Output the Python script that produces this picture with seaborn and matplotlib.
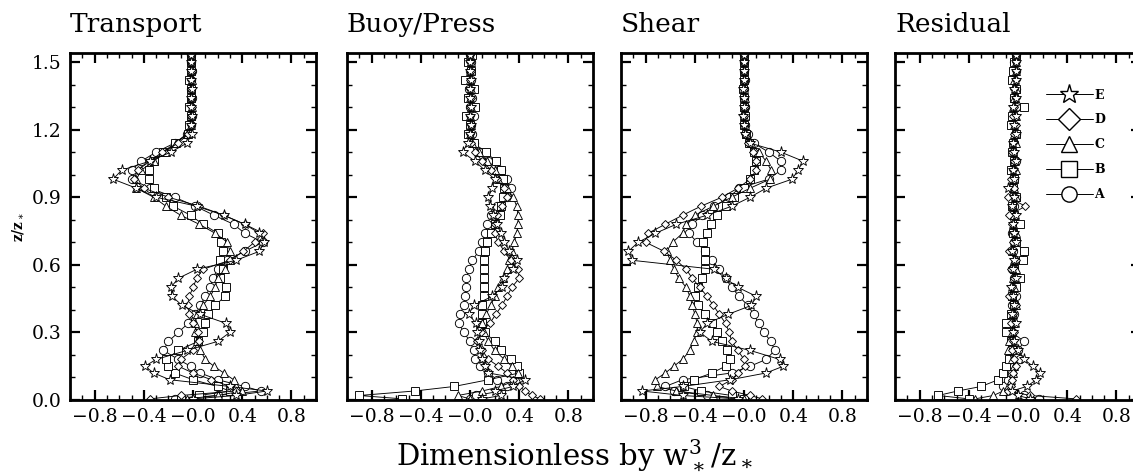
import numpy as np
import pandas as pd
import matplotlib
matplotlib.use("Agg")
import matplotlib.pyplot as plt
from matplotlib.lines import Line2D
from matplotlib.ticker import FixedLocator, FixedFormatter, MultipleLocator
import seaborn as sns

# ---------------- data ----------------
runs = ["A", "B", "C", "D", "E"]
panel_titles = ["Transport", "Buoy/Press", "Shear", "Residual"]
x_tick_values = [-0.8, -0.4, 0.0, 0.4, 0.8]
x_tick_labels = ["\u22120.8", "\u22120.4", "\u22120.0", "0.4", "0.8"]
y_tick_values = [0.0, 0.3, 0.6, 0.9, 1.2, 1.5]
y_tick_labels = ["0.0", "0.3", "0.6", "0.9", "1.2", "1.5"]

z_levels = [0.005, 0.02, 0.04, 0.06, 0.09, 0.12, 0.15, 0.18, 0.22, 0.26,
            0.30, 0.34, 0.38, 0.42, 0.46, 0.50, 0.54, 0.58, 0.62, 0.66,
            0.70, 0.74, 0.78, 0.82, 0.86, 0.90, 0.94, 0.98, 1.02, 1.06,
            1.10, 1.14, 1.18, 1.22, 1.26, 1.30, 1.34, 1.38, 1.42, 1.46,
            1.50, 1.53]

# Transport
transport_A = [-0.15, 0.20, 0.55, 0.42, 0.20, 0.06, -0.02, -0.12, -0.24, -0.20,
               -0.12, -0.04, 0.02, 0.06, 0.10, 0.14, 0.16, 0.20, 0.28, 0.42,
               0.57, 0.42, 0.33, 0.17, 0.02, -0.15, -0.35, -0.50, -0.50, -0.42,
               -0.30, -0.15, -0.05, -0.02, -0.01, -0.02, -0.01, -0.02, -0.02, -0.01,
               -0.02, -0.02]
transport_B = [-0.10, 0.05, 0.30, 0.20, 0.00, -0.15, -0.20, -0.22, -0.12, 0.04,
               0.08, 0.10, 0.12, 0.18, 0.26, 0.27, 0.22, 0.24, 0.22, 0.24,
               0.23, 0.20, 0.08, -0.02, -0.16, -0.22, -0.32, -0.36, -0.36, -0.32,
               -0.24, -0.15, -0.04, -0.03, -0.02, -0.03, -0.02, -0.02, -0.03, -0.02,
               -0.02, -0.02]
transport_C = [-0.05, 0.20, 0.40, 0.35, 0.33, 0.25, 0.17, 0.10, 0.06, 0.03,
               0.02, 0.02, 0.03, 0.08, 0.14, 0.18, 0.20, 0.26, 0.30, 0.30,
               0.28, 0.18, 0.05, -0.10, -0.22, -0.32, -0.46, -0.46, -0.42, -0.32,
               -0.22, -0.14, -0.05, -0.02, -0.02, -0.01, -0.02, -0.02, -0.01, -0.02,
               -0.02, -0.02]
transport_D = [-0.35, -0.10, 0.35, 0.30, 0.15, 0.00, -0.12, -0.10, 0.00, 0.05,
               0.04, 0.00, -0.03, -0.04, -0.03, 0.00, 0.03, 0.08, 0.30, 0.41,
               0.50, 0.57, 0.42, 0.25, 0.05, -0.20, -0.40, -0.48, -0.45, -0.35,
               -0.25, -0.12, -0.04, -0.02, -0.02, -0.01, -0.02, -0.02, -0.02, -0.01,
               -0.02, -0.02]
transport_E = [0.00, 0.35, 0.60, 0.30, -0.19, -0.32, -0.39, -0.30, -0.05, 0.20,
               0.30, 0.27, 0.06, -0.09, -0.17, -0.18, -0.12, 0.03, 0.35, 0.54,
               0.58, 0.54, 0.42, 0.25, 0.03, -0.30, -0.46, -0.65, -0.58, -0.35,
               -0.18, -0.05, -0.01, -0.02, -0.01, -0.02, -0.02, -0.01, -0.02, -0.02,
               -0.02, -0.02]

# Buoy/Press
buoy_A = [0.00, 0.05, 0.25, 0.30, 0.22, 0.15, 0.08, 0.04, 0.03, 0.00,
          -0.05, -0.09, -0.08, -0.05, -0.04, -0.03, -0.03, -0.01, 0.02, 0.07,
          0.10, 0.12, 0.14, 0.17, 0.22, 0.30, 0.33, 0.30, 0.25, 0.15,
          0.08, 0.03, 0.02, 0.01, 0.03, 0.00, 0.02, -0.01, 0.01, 0.00,
          0.01, 0.00]
buoy_B = [-0.55, -0.90, -0.45, -0.13, 0.15, 0.40, 0.38, 0.33, 0.25, 0.20,
          0.12, 0.10, 0.10, 0.10, 0.11, 0.11, 0.11, 0.11, 0.11, 0.12,
          0.14, 0.17, 0.20, 0.24, 0.25, 0.27, 0.28, 0.27, 0.25, 0.21,
          0.13, 0.03, -0.02, 0.00, -0.03, 0.04, -0.02, 0.03, -0.04, 0.01,
          -0.02, 0.02]
buoy_C = [0.00, -0.10, 0.10, 0.25, 0.38, 0.39, 0.34, 0.28, 0.20, 0.15,
          0.11, 0.10, 0.13, 0.17, 0.20, 0.23, 0.27, 0.30, 0.32, 0.34,
          0.36, 0.38, 0.39, 0.39, 0.38, 0.35, 0.30, 0.23, 0.20, 0.14,
          0.07, 0.02, 0.00, 0.01, 0.00, 0.01, 0.00, 0.01, 0.00, 0.00,
          0.01, 0.00]
buoy_D = [0.57, 0.50, 0.45, 0.40, 0.35, 0.30, 0.23, 0.15, 0.10, 0.06,
          0.09, 0.16, 0.21, 0.26, 0.30, 0.34, 0.40, 0.39, 0.33, 0.28,
          0.23, 0.20, 0.20, 0.22, 0.26, 0.30, 0.28, 0.22, 0.17, 0.10,
          0.04, 0.01, 0.00, 0.01, 0.00, 0.00, 0.01, 0.00, 0.00, 0.01,
          0.00, 0.00]
buoy_E = [0.10, 0.25, 0.20, 0.35, 0.45, 0.15, 0.12, 0.10, 0.08, 0.07,
          0.06, 0.05, -0.01, 0.03, 0.18, 0.26, 0.28, 0.35, 0.38, 0.32,
          0.28, 0.25, 0.22, 0.19, 0.16, 0.15, 0.18, 0.20, 0.12, 0.04,
          -0.06, -0.02, 0.00, 0.01, 0.00, 0.01, 0.00, 0.00, 0.01, 0.00,
          0.00, 0.00]

# Shear
shear_A = [0.00, -0.30, -0.57, -0.64, -0.50, -0.10, 0.05, 0.18, 0.25, 0.22,
           0.16, 0.12, 0.08, 0.03, -0.04, -0.10, -0.15, -0.20, -0.26, -0.32,
           -0.38, -0.45, -0.42, -0.34, -0.24, -0.12, -0.04, 0.20, 0.30, 0.30,
           0.20, 0.08, 0.03, 0.01, 0.00, 0.01, 0.00, 0.00, 0.01, 0.00,
           0.00, 0.00]
shear_B = [0.00, -0.10, -0.35, -0.49, -0.41, -0.26, -0.15, -0.11, -0.14, -0.18,
           -0.22, -0.26, -0.32, -0.37, -0.40, -0.37, -0.34, -0.32, -0.32, -0.32,
           -0.33, -0.30, -0.27, -0.22, -0.15, -0.08, 0.00, 0.05, 0.08, 0.10,
           0.08, 0.04, 0.02, 0.00, 0.01, 0.00, 0.00, -0.01, 0.00, 0.00,
           0.00, 0.00]
shear_C = [0.00, -0.25, -0.55, -0.71, -0.72, -0.64, -0.57, -0.50, -0.44, -0.41,
           -0.38, -0.38, -0.40, -0.42, -0.44, -0.47, -0.53, -0.57, -0.60, -0.63,
           -0.58, -0.50, -0.47, -0.40, -0.25, -0.10, 0.05, 0.21, 0.22, 0.18,
           0.12, 0.06, 0.02, 0.01, 0.00, 0.00, 0.01, 0.00, 0.00, 0.00,
           0.00, 0.00]
shear_D = [0.15, 0.05, -0.10, -0.20, -0.10, -0.05, 0.01, 0.00, -0.05, -0.10,
           -0.12, -0.15, -0.20, -0.25, -0.30, -0.36, -0.42, -0.47, -0.55, -0.65,
           -0.80, -0.78, -0.64, -0.50, -0.35, -0.18, -0.05, 0.05, 0.10, 0.10,
           0.07, 0.03, 0.01, 0.00, 0.00, 0.01, 0.00, 0.00, 0.00, 0.00,
           0.00, 0.00]
shear_E = [-0.05, -0.50, -0.83, -0.50, -0.11, 0.18, 0.32, 0.29, 0.05, -0.26,
           -0.36, -0.30, -0.13, 0.06, 0.10, -0.05, -0.15, -0.24, -0.91, -0.94,
           -0.86, -0.72, -0.55, -0.30, -0.10, 0.05, 0.18, 0.39, 0.44, 0.48,
           0.30, 0.05, 0.01, 0.00, -0.01, 0.00, 0.00, -0.01, 0.00, 0.00,
           0.00, 0.00]

# Residual
resid_A = [0.17, 0.05, -0.10, -0.12, -0.08, -0.05, -0.03, 0.02, 0.00, 0.05,
           -0.05, -0.04, -0.03, -0.05, -0.02, -0.04, -0.03, -0.05, -0.02, -0.04,
           -0.03, -0.05, -0.02, -0.04, -0.03, -0.02, -0.04, -0.03, -0.05, -0.02,
           -0.04, -0.03, -0.02, -0.04, -0.03, -0.02, -0.03, -0.02, -0.03, -0.02,
           -0.03, -0.02]
resid_B = [-0.40, -0.65, -0.49, -0.30, -0.16, -0.12, -0.10, -0.07, -0.05, -0.06,
           -0.10, -0.10, -0.06, -0.03, -0.05, -0.02, 0.02, -0.03, 0.04, 0.05,
           -0.02, -0.04, 0.02, -0.03, -0.05, -0.02, -0.04, -0.03, -0.06, -0.03,
           -0.05, -0.04, -0.02, -0.06, -0.05, 0.05, -0.03, -0.02, -0.05, -0.04,
           -0.03, -0.02]
resid_C = [-0.35, -0.20, -0.12, -0.08, -0.06, -0.04, -0.03, -0.05, -0.08, -0.07,
           -0.05, -0.03, -0.04, -0.02, -0.05, -0.03, -0.04, -0.02, -0.03, -0.05,
           -0.03, -0.02, -0.04, -0.03, -0.05, -0.02, -0.03, -0.04, -0.02, -0.03,
           -0.04, -0.02, -0.03, -0.03, -0.02, -0.04, -0.03, -0.02, -0.03, -0.02,
           -0.02, -0.02]
resid_D = [0.47, 0.10, -0.08, -0.06, -0.05, -0.04, -0.02, -0.03, -0.05, -0.04,
           -0.03, -0.06, -0.04, -0.02, -0.07, -0.05, -0.03, -0.06, -0.02, -0.07,
           -0.04, -0.03, -0.05, -0.07, 0.06, -0.08, -0.03, -0.06, -0.04, -0.03,
           -0.05, -0.04, -0.03, -0.02, -0.04, -0.03, -0.02, -0.03, -0.02, -0.02,
           -0.02, -0.02]
resid_E = [0.10, 0.00, -0.05, 0.07, 0.15, 0.18, 0.12, 0.05, 0.00, -0.03,
           -0.04, -0.02, -0.05, -0.03, -0.04, -0.06, -0.02, -0.04, -0.03, -0.05,
           -0.02, -0.03, -0.04, -0.02, -0.05, -0.03, -0.08, -0.03, -0.04, -0.02,
           -0.03, -0.04, -0.02, -0.03, -0.02, -0.04, -0.02, -0.03, -0.02, -0.02,
           -0.02, -0.02]

panel_data = [
    {"A": transport_A, "B": transport_B, "C": transport_C, "D": transport_D, "E": transport_E},
    {"A": buoy_A, "B": buoy_B, "C": buoy_C, "D": buoy_D, "E": buoy_E},
    {"A": shear_A, "B": shear_B, "C": shear_C, "D": shear_D, "E": shear_E},
    {"A": resid_A, "B": resid_B, "C": resid_C, "D": resid_D, "E": resid_E},
]

# ---------------- style ----------------
sns.set_theme(style="ticks")
plt.rcParams["font.family"] = ["DejaVu Serif"]
plt.rcParams["mathtext.fontset"] = "dejavuserif"
for key in ["text.color", "axes.labelcolor", "xtick.color", "ytick.color",
            "axes.edgecolor"]:
    plt.rcParams[key] = "black"

marker_map = {"A": "o", "B": "s", "C": "^", "D": "D", "E": "*"}
palette = {r: "black" for r in runs}
marker_sizes = {"o": 6.0, "s": 6.0, "^": 6.0, "D": 4.5, "*": 8.0}

fig = plt.figure(figsize=(11.33, 4.74), dpi=100)
W, H = 1133.0, 474.0
lefts = [70, 347, 621, 895]
ax_w, ax_h, ax_bottom = 246, 347, 74

for i, (title, pdata) in enumerate(zip(panel_titles, panel_data)):
    ax = fig.add_axes([lefts[i] / W, ax_bottom / H, ax_w / W, ax_h / H])
    frames = []
    for r in runs:
        frames.append(pd.DataFrame({"x": pdata[r], "z": z_levels, "run": r}))
    df = pd.concat(frames, ignore_index=True)
    sns.lineplot(data=df, x="x", y="z", hue="run", style="run",
                 palette=palette, markers=marker_map, dashes=False,
                 sort=False, estimator=None, orient="y", legend=False,
                 lw=0.65, markerfacecolor="white", markeredgecolor="black",
                 markeredgewidth=0.65, markersize=6, ax=ax)
    for ln in ax.lines:
        m = ln.get_marker()
        if m in marker_sizes:
            ln.set_markersize(marker_sizes[m])
        ln.set_markerfacecolor("white")
        ln.set_markeredgecolor("black")
        ln.set_color("black")

    ax.set_xlim(-1.0, 1.0)
    ax.set_ylim(0.0, 1.54)
    ax.xaxis.set_major_locator(FixedLocator(x_tick_values))
    ax.xaxis.set_major_formatter(FixedFormatter(x_tick_labels))
    ax.xaxis.set_minor_locator(MultipleLocator(0.1))
    ax.yaxis.set_major_locator(FixedLocator(y_tick_values))
    ax.yaxis.set_minor_locator(MultipleLocator(0.1))
    if i == 0:
        ax.yaxis.set_major_formatter(FixedFormatter(y_tick_labels))
        ax.set_ylabel(r"z/z$_\ast$", fontsize=10, fontweight="bold", labelpad=4)
    else:
        ax.set_yticklabels([])
        ax.set_ylabel("")
    ax.set_xlabel("")
    ax.tick_params(which="both", direction="in", top=True, right=True,
                   labelsize=13.5, colors="black")
    ax.tick_params(which="major", length=7, width=1.6, pad=6)
    ax.tick_params(which="minor", length=3.5, width=1.0)
    for sp in ax.spines.values():
        sp.set_linewidth(2.0)
        sp.set_color("black")
    ax.set_title(title, loc="left", fontsize=19, pad=15, x=0.0, color="black")

    if i == 3:
        handles = []
        for r in ["E", "D", "C", "B", "A"]:
            mk = marker_map[r]
            handles.append(Line2D([0], [0], color="black", lw=0.7, marker=mk,
                                  markersize=11 if mk != "*" else 14,
                                  markerfacecolor="white", markeredgecolor="black",
                                  markeredgewidth=1.0))
        ax.legend(handles, ["E", "D", "C", "B", "A"], loc="upper right",
                  bbox_to_anchor=(0.9, 0.93), frameon=False, handlelength=3.8,
                  handletextpad=0.1, labelspacing=0.95,
                  prop={"family": "DejaVu Serif", "weight": "bold", "size": 9})

fig.text(575 / W, 1 - 455 / H, r"Dimensionless by w$_\ast^3$/z$_\ast$",
         ha="center", va="center", fontsize=21, color="black")

fig.savefig("out.png", dpi=100)
